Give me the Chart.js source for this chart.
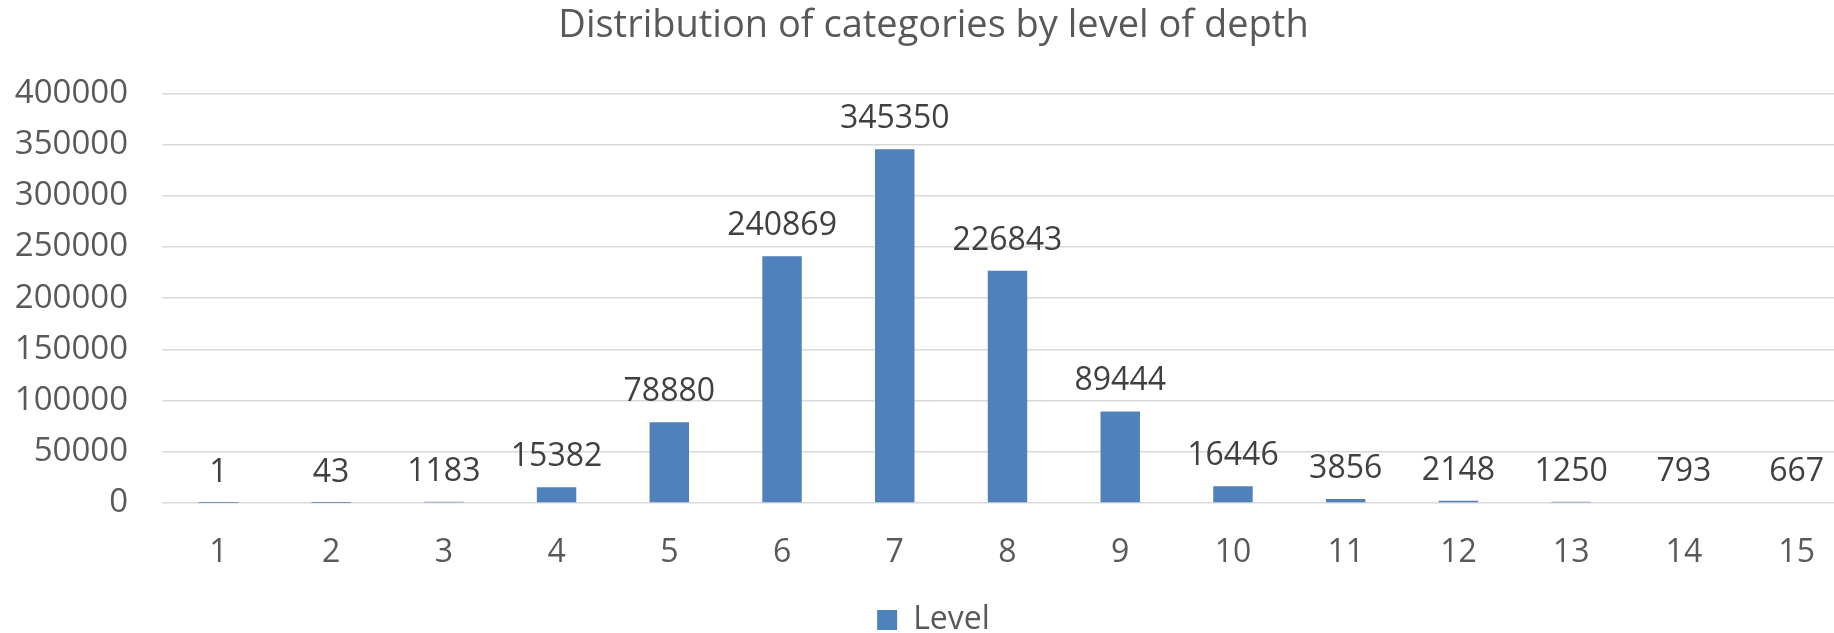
<!DOCTYPE html>
<html>
<head>
<meta charset="utf-8">
<script src="https://cdn.jsdelivr.net/npm/chart.js@4"></script>
<style>
  html, body { margin: 0; padding: 0; background: #ffffff; overflow: hidden; }
  #clip { width: 1834px; height: 633px; overflow: hidden; position: relative; }
  #wrap { width: 1880px; height: 633px; position: absolute; left: 0; top: 0; }
</style>
</head>
<body>
<div id="clip"><div id="wrap"><canvas id="c"></canvas></div></div>
<script>
const chartTitle = 'Distribution of categories by level of depth';
const seriesName = 'Level';
const categories = ['1','2','3','4','5','6','7','8','9','10','11','12','13','14','15'];
const levelValues = [1, 43, 1183, 15382, 78880, 240869, 345350, 226843, 89444, 16446, 3856, 2148, 1250, 793, 667];
const yTickMin = 0;
const yTickMax = 400000;
const yTickStep = 50000;

const FONT = "'Open Sans', 'Noto Sans', sans-serif";

const valueLabels = {
  id: 'valueLabels',
  afterDatasetsDraw(chart) {
    const ctx = chart.ctx;
    ctx.save();
    ctx.font = '32px ' + FONT;
    ctx.fillStyle = '#404040';
    ctx.textAlign = 'center';
    ctx.textBaseline = 'alphabetic';
    chart.data.datasets.forEach((ds, di) => {
      const meta = chart.getDatasetMeta(di);
      meta.data.forEach((bar, i) => {
        ctx.fillText(String(ds.data[i]), bar.x, bar.y - 21);
      });
    });
    ctx.restore();
  }
};

new Chart(document.getElementById('c'), {
  type: 'bar',
  data: {
    labels: categories,
    datasets: [{
      label: seriesName,
      data: levelValues,
      backgroundColor: '#4f81bd',
      borderWidth: 0,
      barPercentage: 0.35,
      categoryPercentage: 1.0
    }]
  },
  options: {
    responsive: true,
    maintainAspectRatio: false,
    animation: false,
    layout: { padding: { left: 14, right: 27, top: 0, bottom: 0 } },
    plugins: {
      title: {
        display: true,
        text: chartTitle,
        color: '#595959',
        font: { family: FONT, size: 38, weight: 'normal' },
        padding: { top: 3, bottom: 44.7 }
      },
      legend: {
        display: true,
        position: 'bottom',
        maxHeight: 30,
        labels: {
          color: '#595959',
          font: { family: FONT, size: 32 },
          boxWidth: 20,
          boxHeight: 20,
          padding: 1
        }
      },
      tooltip: { enabled: false }
    },
    scales: {
      x: {
        grid: { display: false, drawTicks: false },
        border: { display: false },
        ticks: {
          color: '#595959',
          font: { family: FONT, size: 32 },
          padding: 31,
          maxRotation: 0
        },
        afterFit(scale) { scale.height = 100; }
      },
      y: {
        min: yTickMin,
        max: yTickMax,
        grid: { color: '#d9d9d9', lineWidth: 1.5, drawTicks: false },
        border: { display: false },
        ticks: {
          stepSize: yTickStep,
          color: '#595959',
          font: { family: FONT, size: 33 },
          padding: 34,
          callback: (v) => String(v)
        },
        afterFit(scale) { scale.width = 148; }
      }
    }
  },
  plugins: [valueLabels]
});
</script>
</body>
</html>
